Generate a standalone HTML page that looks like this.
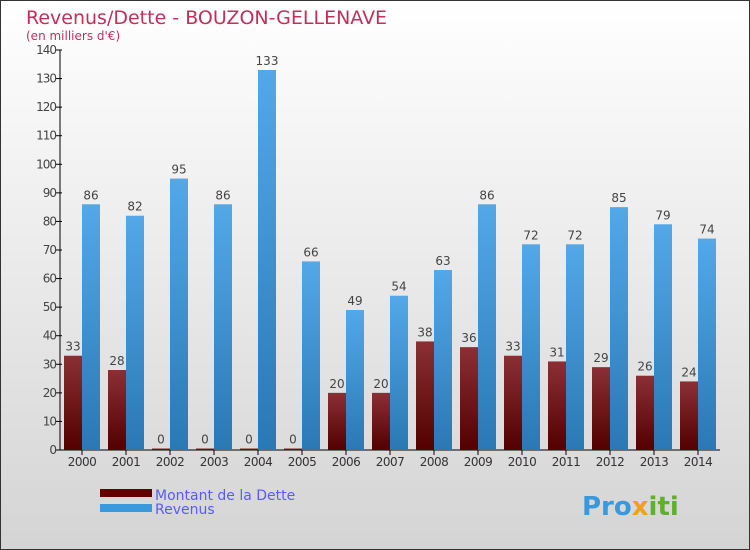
<!DOCTYPE html>
<html><head><meta charset="utf-8"><style>
body{margin:0}
svg{display:block;font-family:"DejaVu Sans","Liberation Sans",sans-serif}
</style></head><body>
<svg width="750" height="550">
<defs>
<linearGradient id="bg" x1="0" y1="0" x2="0" y2="1"><stop offset="0" stop-color="#ffffff"/><stop offset="1" stop-color="#d4d4d4"/></linearGradient>
<linearGradient id="gd" x1="0" y1="0" x2="0" y2="1"><stop offset="0" stop-color="#8a3034"/><stop offset="1" stop-color="#520000"/></linearGradient>
<linearGradient id="gr" x1="0" y1="0" x2="0" y2="1"><stop offset="0" stop-color="#54a8e8"/><stop offset="1" stop-color="#2a78b4"/></linearGradient>
</defs>
<rect x="0.5" y="0.5" width="749" height="549" fill="url(#bg)" stroke="#333"/>
<text x="26" y="24" font-size="19" fill="#c0305a">Revenus/Dette - BOUZON-GELLENAVE</text>
<text x="26" y="40" font-size="12" fill="#c0305a">(en milliers d'€)</text>
<g id="plot"></g>
<g>
<rect x="100" y="489" width="52" height="8" fill="#600000"/>
<text x="155" y="500" font-size="14" fill="#5a5aff">Montant de la Dette</text>
<rect x="100" y="504" width="52" height="8" fill="#3a98dc"/>
<text x="155" y="514" font-size="14" fill="#5a5aff">Revenus</text>
</g>
<text x="582" y="515" font-size="26" font-weight="bold" fill="#3a98dc">Pro<tspan fill="#f0a020">x</tspan><tspan fill="#60b030">iti</tspan></text>
</svg>
<script>
const years=["2000","2001","2002","2003","2004","2005","2006","2007","2008","2009","2010","2011","2012","2013","2014"];
const dette=[33,28,0,0,0,0,20,20,38,36,33,31,29,26,24];
const revenus=[86,82,95,86,133,66,49,54,63,86,72,72,85,79,74];
const yTicks=[0,10,20,30,40,50,60,70,80,90,100,110,120,130,140];
const NS="http://www.w3.org/2000/svg";
const g=document.getElementById('plot');
const y0=450,yTop=50,yMax=140;
const y=v=>y0-(v/yMax)*(y0-yTop);
const xg=i=>64+i*44;
function mk(t,a,txt){const e=document.createElementNS(NS,t);for(const k in a)e.setAttribute(k,a[k]);if(txt!==undefined)e.textContent=txt;g.appendChild(e);return e;}
let ax=mk('line',{x1:60,y1:50,x2:60,y2:450,stroke:'#000'});


let bx=mk('line',{x1:60,y1:450,x2:720,y2:450,stroke:'#000'});


yTicks.forEach(v=>{
 let t=mk('line',{x1:56,y1:y(v),x2:62,y2:y(v),stroke:'#000'});
 
 
 let l=mk('text',{x:56,y:y(v)+4,'font-size':12,'text-anchor':'end',fill:'#444','letter-spacing':'-1'},v);
 
 
});
years.forEach((yr,i)=>{
 const x=xg(i);
 let t=mk('line',{x1:x+18,y1:450,x2:x+18,y2:455,stroke:'#000'});
 
 
 let l=mk('text',{x:x+18,y:466,'font-size':12,'text-anchor':'middle',fill:'#333','letter-spacing':'-0.5'},yr);
 
 
 const hd=Math.max(y0-y(dette[i]),1.5);
 let b=mk('rect',{x:x,y:y0-hd,width:18,height:hd,fill:'url(#gd)'});
 
 
 let v1=mk('text',{x:x+9,y:y0-hd-5,'font-size':12,'text-anchor':'middle',fill:'#444'},dette[i]);
 
 
 let b2=mk('rect',{x:x+18,y:y(revenus[i]),width:18,height:y0-y(revenus[i]),fill:'url(#gr)'});
 
 
 let v2=mk('text',{x:x+27,y:y(revenus[i])-5,'font-size':12,'text-anchor':'middle',fill:'#444'},revenus[i]);
 
 
});
</script>
</body></html>
